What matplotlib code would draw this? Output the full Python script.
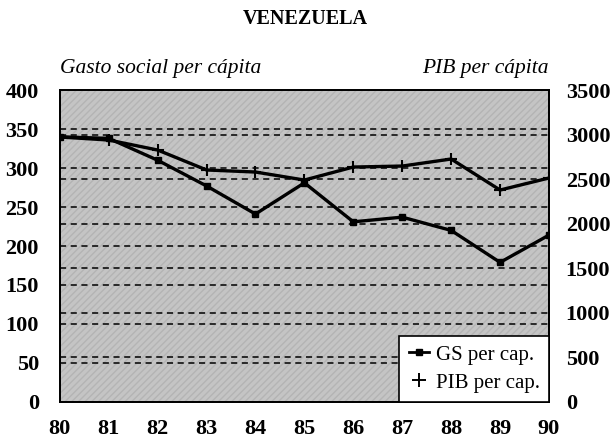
import matplotlib.pyplot as plt
from matplotlib.lines import Line2D
import numpy as np

plt.rcParams["font.family"] = ["Liberation Serif", "DejaVu Serif"]

years = ["80", "81", "82", "83", "84", "85", "86", "87", "88", "89", "90"]
gs_per_cap = [340, 338, 310, 277, 241, 281, 231, 237, 220, 179, 214]
pib_per_cap = [2973, 2939, 2827, 2603, 2580, 2490, 2636, 2647, 2726, 2378, 2513]

left_ticks = [0, 50, 100, 150, 200, 250, 300, 350, 400]
right_ticks = [0, 500, 1000, 1500, 2000, 2500, 3000, 3500]

fig = plt.figure(figsize=(6.1, 4.4), dpi=100)
ax = fig.add_axes([0.098, 0.0864, 0.802, 0.709])
ax2 = ax.twinx()

x = np.arange(len(years))

# grey stippled background
ax.set_facecolor("#c4c4c4")
ax.patch.set_hatch("/////")
ax.patch.set_edgecolor("#b4b4b4")

dash = (0, (4, 3))
for v in left_ticks[1:-1]:
    ax.axhline(v, color="black", lw=1.1, linestyle=dash, zorder=1)
for v in right_ticks[1:-1]:
    ax2.axhline(v, color="black", lw=1.1, linestyle=dash, zorder=1)

ax.plot(x, gs_per_cap, color="black", lw=2.4, marker="s", ms=4, zorder=3)
ax2.plot(x, pib_per_cap, color="black", lw=2.4, marker="+", ms=9,
         mew=1.5, zorder=3)

ax.set_xlim(0, len(years) - 1)
ax.set_ylim(0, 400)
ax2.set_ylim(0, 3500)
ax.set_xticks(x)
ax.set_xticklabels(years)
ax.set_yticks(left_ticks)
ax2.set_yticks(right_ticks)

for a in (ax, ax2):
    a.tick_params(length=0, labelsize=16)
    for lab in a.get_xticklabels() + a.get_yticklabels():
        lab.set_fontweight("bold")
    for s in a.spines.values():
        s.set_linewidth(1.3)
ax.tick_params(axis="x", pad=12)
ax.tick_params(axis="y", pad=15)
ax2.tick_params(axis="y", pad=12)

fig.text(0.5, 0.957, "VENEZUELA", ha="center", va="center",
         fontsize=14.5, fontweight="bold")
fig.text(0.098, 0.845, "Gasto social per cápita", ha="left", va="center",
         fontsize=15.5, style="italic")
fig.text(0.9, 0.845, "PIB per cápita", ha="right", va="center",
         fontsize=15.5, style="italic")

h1 = Line2D([], [], color="black", lw=2, marker="s", ms=4)
h2 = Line2D([], [], color="black", lw=0, marker="+", ms=10, mew=1.4)
leg = ax2.legend(handles=[h1, h2], labels=["GS per cap.", "PIB per cap."],
                 loc="lower right", fontsize=15,
                 frameon=True, fancybox=False, edgecolor="black",
                 borderaxespad=0, handlelength=1.0, handletextpad=0.3,
                 borderpad=0.45, labelspacing=0.4)
leg.get_frame().set_linewidth(1.2)
leg.get_frame().set_alpha(1)

fig.savefig("out.png", dpi=100)
